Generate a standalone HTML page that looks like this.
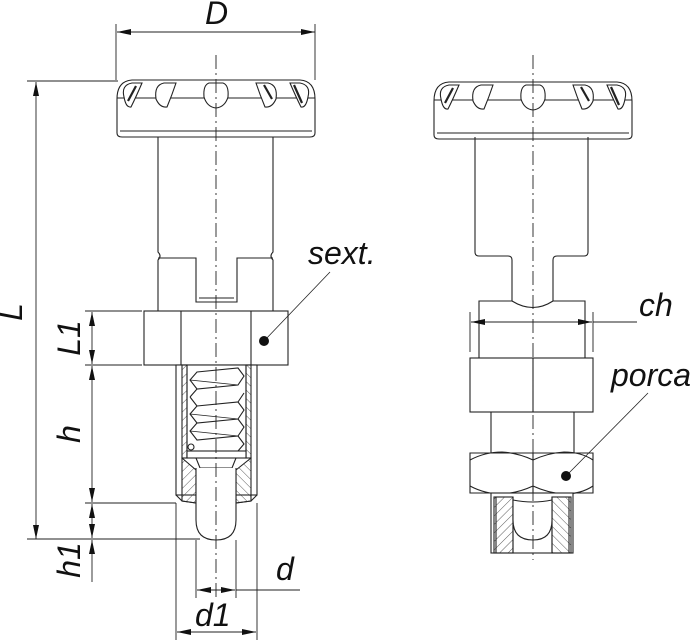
<!DOCTYPE html>
<html><head><meta charset="utf-8"><style>
html,body{margin:0;padding:0;background:#fff}
svg{display:block}
text{font-family:"Liberation Sans",sans-serif;font-style:italic;font-size:32px;fill:#111}
</style></head><body>
<svg width="696" height="641" viewBox="0 0 696 641" xmlns="http://www.w3.org/2000/svg">
<defs>
<marker id="a" viewBox="0 0 14 6" refX="14" refY="3" markerWidth="14" markerHeight="6" orient="auto" markerUnits="userSpaceOnUse"><path d="M0,0 L14,3 L0,6 Z" fill="#111"/></marker>
<pattern id="h" width="6" height="6" patternUnits="userSpaceOnUse" patternTransform="rotate(45)"><line x1="0" y1="0" x2="0" y2="6" stroke="#333" stroke-width="0.8"/></pattern>
<pattern id="h2" width="6" height="6" patternUnits="userSpaceOnUse" patternTransform="rotate(-45)"><line x1="0" y1="0" x2="0" y2="6" stroke="#333" stroke-width="0.8"/></pattern>
<g id="knob" fill="none" stroke="#222" stroke-width="1.1">
<path d="M-99,52 L-99,18 Q-99,0 -84,-1 L84,-1 Q99,0 99,18 L99,52 Q99,56 94,56 L-94,56 Q-99,56 -99,52 Z" fill="#fff"/>
<path d="M-96,50 L96,50"/>
<path d="M-99,17 L99,17"/>
<path d="M-84,2 Q-95,4 -92,16 Q-90,27 -85,26 Q-80,16 -74,2 Z" fill="#fff"/>
<path d="M-52,2 Q-62,4 -60,18 Q-56,27 -49,26 Q-44,14 -40,2 Z" fill="#fff"/>
<path d="M-7,2 Q-13,4 -12,16 Q-9,26 0,27 Q9,26 12,16 Q13,4 7,2 Z" fill="#fff"/>
<path d="M52,2 Q62,4 60,18 Q56,27 49,26 Q44,14 40,2 Z" fill="#fff"/>
<path d="M84,2 Q95,4 92,16 Q90,27 85,26 Q80,16 74,2 Z" fill="#fff"/>
<path d="M-80,5 L-88,20 M48,4 L56,18 M78,4 L86,22" stroke-width="2.2"/>
</g>
</defs>
<g fill="none" stroke="#222" stroke-width="1.1">
<!-- LEFT VIEW -->
<use href="#knob" x="216" y="81"/>
<path d="M158,137 L158,252 Q162,256 158,260 L158,311 M273,137 L273,252 Q269,256 273,260 L273,311"/>
<path d="M158,258 L196,258 L196,302 L237,302 L237,258 L273,258"/>
<path d="M199,298 L234,298"/>
<rect x="144" y="311" width="144" height="54" fill="#fff"/>
<path d="M181,311 V365 M251,311 V365"/>
<!-- body -->
<rect x="176" y="365" width="81" height="130" fill="#fff"/>
<path d="M176,495 L182,501 L196,503 M257,495 L251,501 L236,503"/>
<rect x="182" y="365" width="5" height="93" fill="url(#h)"/>
<rect x="246" y="365" width="5" height="93" fill="url(#h2)"/>
<path d="M182,458 L196,470 L196,503 L182,501 Z" fill="url(#h)"/>
<path d="M251,458 L236,470 L236,503 L251,501 Z" fill="url(#h2)"/>
<path d="M187,365 V458 M246,365 V458"/>
<rect x="187" y="451" width="59" height="7" fill="#fff"/>
<path d="M196,458 L200,468 L232,468 L236,458"/>
<!-- spring -->
<path d="M197,372 L238,368 L244,376 L238,385 L197,389 L190,380 Z M197,389 L238,385 M190,397 L197,389 M197,406 L238,402 L244,393 M197,406 L190,397 M197,406 L238,402 L244,410 L238,419 L197,423 L190,414 L197,406 M197,440 L238,436 L244,427 L238,419 M197,423 L190,431 L197,440 L238,436 L244,444 L238,451"/>
<path d="M190,380 L238,385 M190,414 L238,419 M190,431 L238,436" stroke-width="0.8"/>
<circle cx="191" cy="447" r="3"/>
<!-- pin -->
<path d="M196,468 L196,520 Q196,540 216,540 Q236,540 236,520 L236,468" fill="#fff"/>
<!-- centerline -->
<path d="M216,55 V600" stroke-dasharray="14,4,2,4" stroke-width="0.9"/>
<path d="M264,341 L330,272" stroke-width="0.8"/>
<!-- RIGHT VIEW -->
<use href="#knob" x="533" y="83"/>
<path d="M475,137 L475,252 Q475,256 479,256 L508,256 Q512,256 512,260 L512,301 M588,137 L588,252 Q588,256 584,256 L557,256 Q553,256 553,260 L553,301"/>
<path d="M479,301 L512,301 Q533,314 553,301 L585,301 L585,358 L479,358 Z" fill="#fff"/>
<rect x="470" y="358" width="123" height="54" fill="#fff"/>
<path d="M533,358 V412"/>
<path d="M491,412 V453 M574,412 V453"/>
<path d="M470,453 L593,453 L593,493 L470,493 Z" fill="#fff"/>
<path d="M470,460 Q485,452 502,452 Q518,453 533,460 Q548,453 564,452 Q581,452 593,460 M470,486 Q485,494 502,494 Q518,493 533,486 Q548,493 564,494 Q581,494 593,486 M533,453 V493"/>
<rect x="491" y="493" width="82" height="60" fill="#fff"/>
<rect x="494" y="497" width="19" height="56" fill="url(#h)"/>
<rect x="552" y="497" width="19" height="56" fill="url(#h2)"/>
<path d="M513,497 V553 M552,497 V553 M496,497 V553 M569,497 V553"/>
<path d="M513,500 Q533,504 552,500 L552,520 Q552,540 533,540 Q513,540 513,520 Z" fill="#fff"/>
<path d="M533,55 V560" stroke-dasharray="14,4,2,4" stroke-width="0.9"/>
<path d="M566,476 L648,393" stroke-width="0.8"/>
</g>
<circle cx="264" cy="341" r="5" fill="#111"/>
<circle cx="566" cy="476" r="5" fill="#111"/>
<!-- DIMENSIONS -->
<g fill="none" stroke="#222" stroke-width="0.9">
<path d="M116,24 V80 M315,24 V80"/>
<path d="M216,32 L117,32" marker-end="url(#a)"/><path d="M216,32 L315,32" marker-end="url(#a)"/>
<path d="M27,81 H118 M27,539 H200"/>
<path d="M36,310 L36,82" marker-end="url(#a)"/><path d="M36,310 L36,539" marker-end="url(#a)"/>
<path d="M85,311 H142 M85,365 H142 M85,503 H176"/>
<path d="M92,338 L92,312" marker-end="url(#a)"/><path d="M92,338 L92,364" marker-end="url(#a)"/>
<path d="M92,434 L92,366" marker-end="url(#a)"/><path d="M92,434 L92,502" marker-end="url(#a)"/>
<path d="M92,582 L92,540" marker-end="url(#a)"/><path d="M92,521 L92,504" marker-end="url(#a)"/><path d="M92,521 L92,538" marker-end="url(#a)"/>
<path d="M196,540 V598 M236,540 V598 M176,503 V640 M257,503 V640"/>
<path d="M216,590 L197,590" marker-end="url(#a)"/><path d="M216,590 L235,590" marker-end="url(#a)"/><path d="M236,590 H300"/>
<path d="M216,632 L177,632" marker-end="url(#a)"/><path d="M216,632 L256,632" marker-end="url(#a)"/>
<path d="M470,312 V352 M593,312 V352"/>
<path d="M533,322 L471,322" marker-end="url(#a)"/><path d="M533,322 L592,322" marker-end="url(#a)"/><path d="M593,322 H637"/>
</g>
<text x="205" y="24">D</text>
<text x="308" y="264">sext.</text>
<text x="639" y="316">ch</text>
<text x="611" y="386">porca</text>
<text x="276" y="580">d</text>
<text x="195" y="626">d1</text>
<text transform="translate(22,312) rotate(-90)" text-anchor="middle">L</text>
<text transform="translate(80,338) rotate(-90)" text-anchor="middle">L1</text>
<text transform="translate(80,434) rotate(-90)" text-anchor="middle">h</text>
<text transform="translate(80,560) rotate(-90)" text-anchor="middle">h1</text>
</svg>
</body></html>
